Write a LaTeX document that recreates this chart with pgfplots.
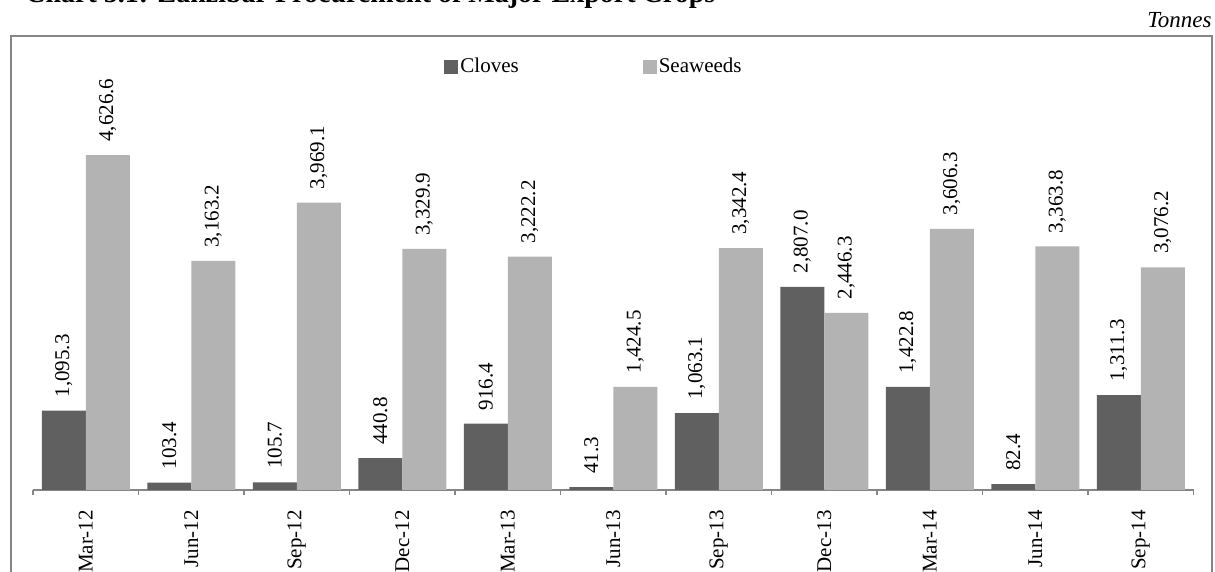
\documentclass[border=0pt]{standalone}
\usepackage{fontspec}
\setmainfont{Liberation Serif}
\usepackage{pgfplots}
\pgfplotsset{compat=1.18}
\definecolor{clovec}{RGB}{96,96,96}
\definecolor{seac}{RGB}{179,179,179}
\definecolor{linec}{RGB}{134,134,134}
\begin{document}
\fontsize{10.5}{12.5}\selectfont
\begin{tikzpicture}
\path[use as bounding box] (0,0) rectangle (607.5pt,286pt);
\node[anchor=base west, inner sep=0pt, font=\bfseries\fontsize{14}{16}\selectfont] at (12.5pt,284.5pt) {Chart 5.1: Zanzibar Procurement of Major Export Crops};
\node[anchor=base east, inner sep=0pt, font=\itshape\fontsize{11.5}{13}\selectfont] at (606pt,272pt) {Tonnes};
\draw[linec, line width=0.75pt] (5.5pt,-3pt) -- (5.5pt,268pt) -- (606pt,268pt) -- (606pt,-3pt);
\begin{axis}[
  at={(16.5pt,41pt)}, anchor=south west,
  scale only axis, width=580.25pt, height=181pt,
  xmin=-0.5, xmax=10.5, ymin=0, ymax=5000,
  clip=false,
  axis x line*=bottom, hide y axis,
  axis line style={linec, line width=0.6pt},
  xtick={0,...,10},
  xticklabels={Mar-12,Jun-12,Sep-12,Dec-12,Mar-13,Jun-13,Sep-13,Dec-13,Mar-14,Jun-14,Sep-14},
  minor xtick={-0.5,0.5,...,10.5},
  major tick length=0pt, minor tick length=2.5pt, tick align=outside,
  minor tick style={linec, line width=0.6pt},
  xticklabel style={rotate=90, anchor=east, inner sep=0pt, font=\fontsize{10.5}{12.5}\selectfont},
  xticklabel shift=10pt,
  ybar=0pt, bar width=22pt,
  /pgf/number format/assume math mode=true,
  /pgf/number format/.cd, fixed, fixed zerofill, precision=1, 1000 sep={,},
  /pgfplots/.cd,
  nodes near coords,
  every node near coord/.append style={rotate=90, anchor=west, inner xsep=6.5pt, inner ysep=0pt, text=black, font=\fontsize{10.5}{12.5}\selectfont},
  legend style={at={(0.3542,1.168)}, anchor=west, draw=none, fill=none, inner sep=0pt,
    legend columns=2, /tikz/every even column/.append style={column sep=61pt},
    nodes={inner sep=1pt}, font=\fontsize{10.5}{12.5}\selectfont},
  legend image code/.code={\fill (0pt,-3.5pt) rectangle (7pt,3.5pt);},
]
\addplot[fill=clovec, draw=none] coordinates {(0,1095.3) (1,103.4) (2,105.7) (3,440.8) (4,916.4) (5,41.3) (6,1063.1) (7,2807.0) (8,1422.8) (9,82.4) (10,1311.3)};
\addplot[fill=seac, draw=none] coordinates {(0,4626.6) (1,3163.2) (2,3969.1) (3,3329.9) (4,3222.2) (5,1424.5) (6,3342.4) (7,2446.3) (8,3606.3) (9,3363.8) (10,3076.2)};
\legend{Cloves,Seaweeds}
\end{axis}
\end{tikzpicture}
\end{document}
